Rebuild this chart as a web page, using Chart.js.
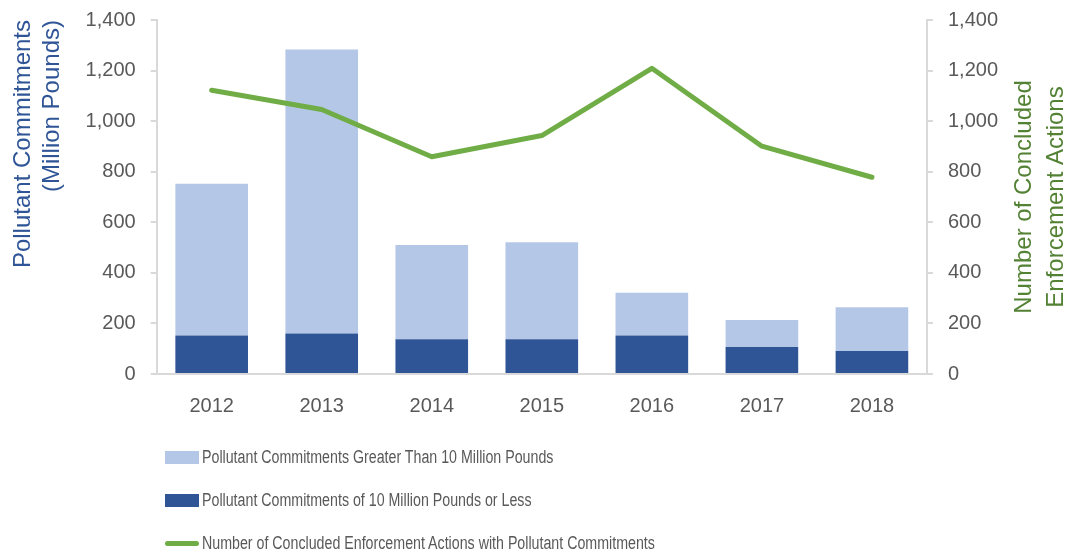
<!DOCTYPE html>
<html>
<head>
<meta charset="utf-8">
<title>Pollutant Commitments</title>
<script src="https://cdn.jsdelivr.net/npm/chart.js@4.4.1/dist/chart.umd.min.js"></script>
<style>
  html, body { margin: 0; padding: 0; background: #fff; }
  #wrap { position: relative; width: 1069px; height: 552px; font-family: 'Liberation Sans', sans-serif; }
  #chartBox { position: absolute; left: 0; top: 0; width: 1069px; height: 442px; }
  #legend { position: absolute; left: 165px; top: 436px; margin: 0; padding: 0; list-style: none; }
  #legend li { height: 43px; display: flex; align-items: center; font-size: 18px; color: #595959; white-space: nowrap; }
  #legend .swatch { display: inline-block; flex: none; width: 34px; height: 13px; margin-right: 3px; }
  #legend .swatch.line { height: 5px; border-radius: 3px; }
  #legend .txt { display: inline-block; transform: scaleX(0.79); transform-origin: left center; }
</style>
</head>
<body>
<div id="wrap">
  <div id="chartBox"><canvas id="myChart"></canvas></div>
  <ul id="legend"></ul>
</div>
<script>
var years = ['2012', '2013', '2014', '2015', '2016', '2017', '2018'];
// million pounds
var smallCommitments = [152, 160, 137, 137, 152, 107, 91];
var largeCommitments = [600, 1123, 373, 384, 169, 107, 173];
// number of actions (right axis)
var enforcementActions = [1122, 1046, 859, 943, 1209, 901, 778];
var legendOrder = [1, 0, 2];

var tickFont = { family: 'Liberation Sans', size: 20 };
var grey = '#595959';
var axisGrey = '#d9d9d9';

// keep the plot close to the top edge, like the original
function trimPadding(scale) {
  scale.paddingTop = 12;
  scale.paddingBottom = 12;
}

// right axis title reads bottom-to-top like the left one
var rightTitle = {
  id: 'rightTitle',
  afterDraw: function(chart) {
    var s = chart.scales.y1;
    var ctx = chart.ctx;
    var cy = (s.top + s.bottom) / 2;
    ctx.save();
    ctx.fillStyle = '#548235';
    ctx.font = "24px 'Liberation Sans', sans-serif";
    ctx.textAlign = 'center';
    ctx.textBaseline = 'middle';
    var lines = ['Number of Concluded', 'Enforcement Actions'];
    for (var i = 0; i < lines.length; i++) {
      ctx.save();
      ctx.translate(s.right + 11 + i * 32, cy);
      ctx.rotate(-Math.PI / 2);
      ctx.fillText(lines[i], 0, 0);
      ctx.restore();
    }
    ctx.restore();
  }
};

var ctx = document.getElementById('myChart').getContext('2d');
var myChart = new Chart(ctx, {
  type: 'bar',
  data: {
    labels: years,
    datasets: [{
      label: 'Pollutant Commitments of 10 Million Pounds or Less',
      data: smallCommitments,
      backgroundColor: '#2f5597',
      borderWidth: 0,
      order: 1
    }, {
      label: 'Pollutant Commitments Greater Than 10 Million Pounds',
      data: largeCommitments,
      backgroundColor: '#b4c7e7',
      borderWidth: 0,
      order: 1
    }, {
      type: 'line',
      label: 'Number of Concluded Enforcement Actions with Pollutant Commitments',
      data: enforcementActions,
      yAxisID: 'y1',
      borderColor: '#70ad47',
      backgroundColor: '#70ad47',
      borderWidth: 5,
      borderCapStyle: 'round',
      borderJoinStyle: 'round',
      pointRadius: 0,
      tension: 0,
      order: 0
    }]
  },
  options: {
    responsive: true,
    maintainAspectRatio: false,
    animation: false,
    layout: { padding: { top: 20, left: 0, right: 56, bottom: 12 } },
    datasets: { bar: { barPercentage: 0.66, categoryPercentage: 1 } },
    plugins: {
      legend: { display: false },
      tooltip: { enabled: false }
    },
    scales: {
      x: {
        stacked: true,
        grid: { display: false },
        border: { display: true, color: axisGrey, width: 2 },
        ticks: { font: tickFont, color: grey, padding: 12 }
      },
      y: {
        stacked: true,
        position: 'left',
        min: 0,
        max: 1400,
        afterFit: trimPadding,
        grid: { drawOnChartArea: false, color: axisGrey, tickLength: 6, lineWidth: 2 },
        border: { display: true, color: axisGrey, width: 2 },
        ticks: { stepSize: 200, font: tickFont, color: grey, padding: 15 },
        title: {
          display: true,
          text: ['Pollutant Commitments', '(Million Pounds)'],
          align: 'end',
          color: '#2f5597',
          font: { family: 'Liberation Sans', size: 24, lineHeight: 1.2 },
          padding: { top: 9, bottom: 4 }
        }
      },
      y1: {
        position: 'right',
        min: 0,
        max: 1400,
        afterFit: trimPadding,
        grid: { drawOnChartArea: false, color: axisGrey, tickLength: 6, lineWidth: 2 },
        border: { display: true, color: axisGrey, width: 2 },
        ticks: { stepSize: 200, font: tickFont, color: grey, padding: 15 }
      }
    }
  },
  plugins: [rightTitle]
});

// HTML legend, one item per row as in the original
var items = Chart.defaults.plugins.legend.labels.generateLabels(myChart);
items.sort(function(a, b) {
  return legendOrder.indexOf(a.datasetIndex) - legendOrder.indexOf(b.datasetIndex);
});
var ul = document.getElementById('legend');
items.forEach(function(item) {
  var li = document.createElement('li');
  var sw = document.createElement('span');
  var isLine = myChart.data.datasets[item.datasetIndex].type === 'line';
  sw.className = isLine ? 'swatch line' : 'swatch';
  sw.style.background = isLine ? item.strokeStyle : item.fillStyle;
  var txt = document.createElement('span');
  txt.className = 'txt';
  txt.textContent = item.text;
  li.appendChild(sw);
  li.appendChild(txt);
  ul.appendChild(li);
});
</script>
</body>
</html>
